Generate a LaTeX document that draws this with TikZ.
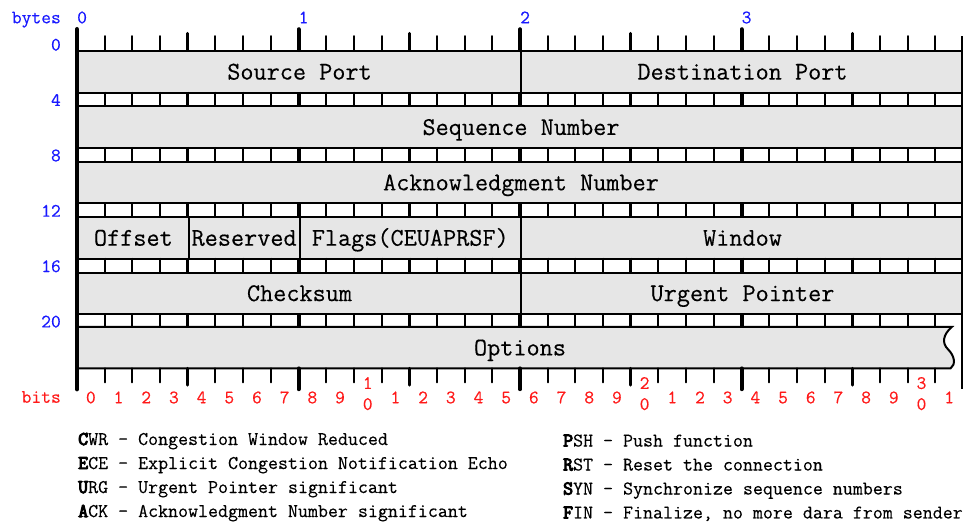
\documentclass[tikz,border=0pt]{standalone}
\usepackage{fontspec}
\setmonofont{Latin Modern Mono}[FakeBold=0.3]
\newfontfamily\boldmono{Latin Modern Mono}[FakeBold=5]
\definecolor{fieldgray}{RGB}{230,230,230}
\definecolor{axisblue}{RGB}{25,25,255}
\definecolor{axisred}{RGB}{255,25,25}
\newlength\bitw
\setlength\bitw{27.6875pt}
\tikzset{
  field/.style={draw=black, fill=fieldgray, line width=2pt, inner sep=0pt,
    anchor=north west, minimum width=#1*\bitw, minimum height=1.5*\bitw,
    text height=15.6pt, text depth=0pt,
    font=\ttfamily\fontsize{25.5}{25.5}\selectfont},
  fieldtext/.style={inner sep=0pt, text height=15.6pt, text depth=0pt,
    font=\ttfamily\fontsize{25.5}{25.5}\selectfont},
  bytelabel/.style={inner sep=0pt, text=axisblue,
    font=\ttfamily\fontsize{19}{19}\selectfont},
  bitlabel/.style={inner sep=0pt, anchor=base, text=axisred,
    font=\ttfamily\fontsize{19}{19}\selectfont},
  legend/.style={inner sep=0pt, anchor=base west,
    font=\ttfamily\fontsize{19.4}{19.4}\selectfont},
  frameline/.style={line width=2pt},
}
\begin{document}
\begin{tikzpicture}[x=\bitw, y=-\bitw]
\useasboundingbox (-2.781,-1.806) rectangle (32.0,17.083);

% header fields, one row of 32 bits every two units
\node[field=16] (srcport) at (0,0) {Source Port};
\node[field=16] (dstport) at (16,0) {Destination Port};
\node[field=32] (seqnum) at (0,2) {Sequence Number};
\node[field=32] (acknum) at (0,4) {Acknowledgment Number};
\node[field=4] (offset) at (0,6) {Offset};
\node[field=4] (reserved) at (4,6) {Reserved};
\node[field=8] (flags) at (8,6) {Flags(CEUAPRSF)};
\node[field=16] (window) at (16,6) {Window};
\node[field=16] (checksum) at (0,8) {Checksum};
\node[field=16] (urgent) at (16,8) {Urgent Pointer};

% options field, open on the right with a wavy edge
\draw[frameline, fill=fieldgray] (0,10) -- (31.6,10)
  .. controls (31.25,10.3) and (31.25,10.6) .. (31.45,10.8)
  .. controls (31.7,11.05) and (31.75,11.35) .. (31.55,11.5)
  -- (0,11.5);
\node[fieldtext] (options) at (16,10.75) {Options};

% bit dividers: ruler ticks above and below, cells between the rows
\foreach \i in {1,...,31}{
  \pgfmathsetmacro\lw{mod(\i,8)==0 ? 4 : (mod(\i,4)==0 ? 3 : 2)}
  \pgfmathsetmacro\len{mod(\i,8)==0 ? 0.75 : (mod(\i,4)==0 ? 0.6 : 0.5)}
  \draw[line width=\lw pt, line cap=round] (\i,0) -- (\i,-\len);
  \draw[line width=\lw pt, line cap=round] (\i,11.5) -- (\i,11.5+\len);
  \foreach \k in {0,...,4}
    \draw[line width=\lw pt] (\i,2*\k+1.5) -- (\i,2*\k+2);
}

% outer edges
\draw[line width=4pt] (32,-0.5) -- (32,12.25);
\draw[line width=4.5pt, line cap=round] (0,-0.75) -- (0,12.25);

% byte numbers and row offsets
\node[bytelabel, anchor=base east] (byteshead) at (-0.578,-0.964) {bytes};
\foreach \j in {0,...,3}
  \node[bytelabel, anchor=base west] (byte\j) at (8*\j,-0.964) {\j};
\foreach \k/\off in {0/0,1/4,2/8,3/12,4/16,5/20}
  \node[bytelabel, anchor=base east] (row\k) at (-0.578,2*\k+0.02) {\off};

% bit numbers
\node[bitlabel, anchor=base east] (bitshead) at (-0.578,12.74) {bits};
\foreach \i in {0,...,31}{
  \pgfmathtruncatemacro\dig{mod(\i,10)}
  \pgfmathtruncatemacro\tens{\i/10}
  \ifnum\dig=0
    \ifnum\i>0
      \node[bitlabel] (bittens\i) at (\i+0.5,12.24) {\tens};
      \node[bitlabel] (bit\i) at (\i+0.5,13.0) {0};
    \else
      \node[bitlabel] (bit\i) at (\i+0.5,12.76) {\dig};
    \fi
  \else
    \node[bitlabel] (bit\i) at (\i+0.5,12.76) {\dig};
  \fi
}

% flag legend
\node[legend] (cwr) at (0.036,14.266) {{\boldmono C}WR - Congestion Window Reduced};
\node[legend] (ece) at (0.036,15.133) {{\boldmono E}CE - Explicit Congestion Notification Echo};
\node[legend] (urg) at (0.036,16.0) {{\boldmono U}RG - Urgent Pointer significant};
\node[legend] (ack) at (0.036,16.867) {{\boldmono A}CK - Acknowledgment Number significant};
\node[legend] (psh) at (17.55,14.32) {{\boldmono P}SH - Push function};
\node[legend] (rst) at (17.55,15.187) {{\boldmono R}ST - Reset the connection};
\node[legend] (syn) at (17.55,16.054) {{\boldmono S}YN - Synchronize sequence numbers};
\node[legend] (fin) at (17.55,16.92) {{\boldmono F}IN - Finalize, no more dara from sender};
\end{tikzpicture}
\end{document}
